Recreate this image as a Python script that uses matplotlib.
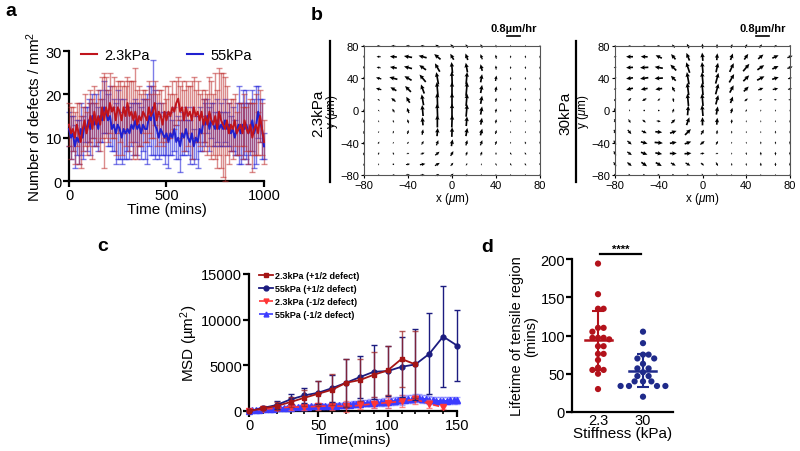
import numpy as np
import matplotlib
matplotlib.use('Agg')
import matplotlib.pyplot as plt
from matplotlib.lines import Line2D

plt.rcParams['font.family'] = ['Liberation Sans', 'DejaVu Sans']
plt.rcParams['mathtext.fontset'] = 'custom'
plt.rcParams['mathtext.rm'] = 'Liberation Sans'
plt.rcParams['mathtext.it'] = 'Liberation Sans:italic'
plt.rcParams['mathtext.bf'] = 'Liberation Sans:bold'

# ---------------- data: panel a ----------------
time_a = list(range(0, 1001, 10))
red_mean = [13, 11, 12, 10, 13, 11, 9, 12, 14, 11,
            13, 15, 12, 16, 13, 15, 13, 17, 14, 17,
            15, 18, 16, 17, 14, 17, 16, 14, 17, 15,
            18, 15, 16, 14, 16, 13, 15, 14, 16, 15,
            14, 17, 15, 16, 18, 14, 16, 15, 13, 16,
            14, 16, 15, 17, 16, 18, 19, 16, 17, 14,
            17, 15, 16, 14, 17, 15, 16, 14, 16, 13,
            15, 13, 16, 14, 13, 15, 12, 16, 14, 13,
            12, 14, 11, 13, 12, 14, 11, 12, 13, 11,
            14, 12, 11, 13, 10, 12, 13, 11, 15, 12,
            9]
red_sd = [5, 6, 5, 6, 5, 7, 6, 5, 6, 5,
          5, 6, 7, 6, 5, 6, 6, 7, 11, 7,
          6, 7, 6, 7, 8, 6, 7, 8, 6, 7,
          6, 8, 7, 9, 10, 8, 7, 6, 5, 6,
          5, 6, 5, 6, 5, 6, 5, 6, 5, 6,
          5, 6, 5, 6, 4, 5, 5, 6, 6, 7,
          6, 7, 6, 9, 7, 6, 7, 6, 5, 6,
          6, 7, 8, 9, 7, 10, 9, 10, 11, 12,
          12, 8, 7, 6, 7, 6, 5, 6, 5, 6,
          6, 5, 7, 6, 8, 6, 7, 5, 6, 6,
          5]
blue_mean = [12, 10, 11, 8, 10, 9, 12, 10, 13, 12,
             14, 12, 15, 13, 14, 12, 15, 14, 17, 16,
             14, 15, 12, 13, 11, 13, 12, 10, 12, 11,
             12, 11, 13, 12, 14, 12, 13, 11, 13, 12,
             12, 15, 14, 17, 13, 12, 10, 12, 11, 10,
             11, 9, 11, 10, 12, 9, 10, 8, 11, 10,
             12, 10, 9, 11, 8, 10, 9, 12, 11, 14,
             13, 15, 12, 14, 13, 12, 14, 12, 13, 12,
             14, 12, 13, 11, 12, 10, 12, 13, 11, 13,
             12, 13, 11, 12, 14, 11, 13, 16, 14, 12,
             8]
blue_sd = [4, 5, 4, 5, 4, 5, 6, 5, 4, 5,
           5, 6, 5, 5, 6, 5, 6, 5, 6, 5,
           6, 7, 5, 6, 7, 8, 7, 6, 7, 6,
           5, 6, 5, 6, 5, 6, 5, 6, 6, 7,
           8, 7, 8, 11, 8, 6, 5, 6, 5, 6,
           5, 6, 5, 4, 5, 4, 5, 6, 5, 4,
           5, 4, 5, 6, 4, 5, 6, 5, 4, 5,
           5, 4, 5, 4, 5, 4, 5, 4, 5, 4,
           5, 4, 5, 4, 5, 4, 6, 9, 7, 8,
           6, 8, 7, 6, 7, 8, 9, 6, 5, 7,
           3]
legend_a = ['2.3kPa', '55kPa']

# ---------------- data: panel b (velocity fields) ----------------
grid_b = [-80, -66.7, -53.3, -40, -26.7, -13.3, 0, 13.3, 26.7, 40, 53.3, 66.7, 80]
# rows from y=80 (top) to y=-80 (bottom); angle in degrees, speed relative to speed_max
ang_soft = [
    [100, 170, 175, 175, 170, 150, 130, 120, 115, 100, 90, 90, 90],
    [100, 180, 175, 170, 165, 140, 120, 110, 110, 100, 90, 90, 90],
    [100, 170, 170, 165, 145, 120, 95, 100, 105, 95, 90, 90, 90],
    [100, 165, 165, 150, 130, 100, 92, 85, 80, 80, 90, 90, 90],
    [95, 165, 150, 135, 110, 95, 90, 85, 80, 80, 90, 90, 90],
    [95, 150, 140, 120, 100, 92, 90, 85, 80, 80, 90, 90, 90],
    [90, 130, 120, 110, 95, 92, 90, 85, 80, 80, 100, 90, 90],
    [90, 110, 110, 105, 95, 90, 88, 85, 80, 80, 90, 90, 90],
    [80, 60, 70, 75, 80, 85, 88, 80, 75, 75, 90, 90, 90],
    [75, 60, 60, 50, 60, 70, 80, 75, 70, 70, 90, 110, 100],
    [75, 70, 110, 20, 20, 40, 60, 70, 70, 90, 120, 120, 110],
    [75, 70, 90, 10, 10, 30, 50, 60, 90, 110, 120, 120, 110],
    [70, 60, 30, 0, 0, 20, 45, 60, 90, 100, 110, 110, 100]]
mag_soft = [
    [0.2, 0.25, 0.3, 0.3, 0.3, 0.35, 0.35, 0.3, 0.3, 0.2, 0.15, 0.15, 0.15],
    [0.2, 0.3, 0.5, 0.6, 0.6, 0.6, 0.5, 0.5, 0.4, 0.3, 0.2, 0.2, 0.2],
    [0.25, 0.3, 0.5, 0.6, 0.6, 0.7, 0.8, 0.7, 0.5, 0.3, 0.2, 0.2, 0.2],
    [0.25, 0.4, 0.6, 0.6, 0.7, 0.9, 1.0, 0.9, 0.6, 0.4, 0.2, 0.2, 0.2],
    [0.25, 0.4, 0.5, 0.6, 0.7, 1.0, 1.0, 1.0, 0.6, 0.4, 0.2, 0.2, 0.2],
    [0.25, 0.2, 0.4, 0.5, 0.8, 1.0, 1.0, 0.9, 0.6, 0.3, 0.2, 0.2, 0.2],
    [0.25, 0.15, 0.3, 0.4, 0.8, 1.0, 1.0, 0.9, 0.6, 0.3, 0.2, 0.15, 0.2],
    [0.25, 0.15, 0.2, 0.3, 0.6, 0.9, 0.9, 0.7, 0.5, 0.3, 0.15, 0.15, 0.2],
    [0.25, 0.15, 0.2, 0.3, 0.4, 0.6, 0.7, 0.6, 0.5, 0.3, 0.15, 0.15, 0.2],
    [0.25, 0.2, 0.15, 0.2, 0.3, 0.4, 0.5, 0.4, 0.4, 0.3, 0.15, 0.2, 0.2],
    [0.25, 0.2, 0.2, 0.2, 0.3, 0.4, 0.4, 0.3, 0.3, 0.2, 0.2, 0.2, 0.2],
    [0.2, 0.15, 0.1, 0.3, 0.4, 0.4, 0.3, 0.2, 0.15, 0.2, 0.2, 0.2, 0.2],
    [0.15, 0.15, 0.2, 0.3, 0.3, 0.3, 0.3, 0.2, 0.15, 0.15, 0.15, 0.15, 0.15]]
ang_stiff = [
    [200, 180, 180, 160, 130, 115, 95, 90, 75, 65, 55, 40, 30],
    [200, 180, 178, 155, 130, 112, 95, 85, 70, 55, 40, 25, 20],
    [200, 183, 183, 170, 135, 108, 95, 78, 65, 50, 35, 25, 20],
    [200, 188, 188, 183, 135, 100, 95, 75, 60, 45, 28, 18, 15],
    [210, 193, 190, 188, 120, 97, 95, 75, 62, 45, 22, 12, 10],
    [240, 225, 210, 220, 100, 95, 95, 75, 70, 40, 20, 0, 0],
    [-70, 260, 240, 270, 70, 85, 95, 80, 75, 70, 80, 90, 90],
    [-70, -60, -40, -10, 45, 70, 90, 85, 85, 90, 90, 90, 90],
    [-65, -50, -25, -5, 20, 45, 60, 85, 90, 90, 90, 90, 95],
    [-60, -40, -15, -5, 10, 20, 40, 60, 90, 90, 90, 90, 95],
    [-60, -35, -20, -10, 0, 5, 10, 20, 90, 95, 95, 95, 95],
    [-55, -40, -35, -30, -30, -30, -40, -60, 95, 95, 95, 95, 95],
    [-50, -45, -40, -40, -40, -45, -60, -70, 90, 90, 90, 90, 90]]
mag_stiff = [
    [0.15, 0.2, 0.2, 0.25, 0.3, 0.35, 0.35, 0.3, 0.3, 0.3, 0.3, 0.25, 0.2],
    [0.2, 0.5, 0.5, 0.5, 0.5, 0.6, 0.6, 0.5, 0.5, 0.5, 0.5, 0.5, 0.4],
    [0.2, 0.5, 0.6, 0.6, 0.6, 0.8, 0.8, 0.7, 0.7, 0.7, 0.6, 0.5, 0.4],
    [0.2, 0.5, 0.6, 0.6, 0.5, 0.9, 0.9, 0.8, 0.7, 0.6, 0.6, 0.5, 0.3],
    [0.2, 0.5, 0.5, 0.5, 0.4, 0.9, 0.9, 0.8, 0.6, 0.5, 0.4, 0.4, 0.3],
    [0.25, 0.3, 0.35, 0.25, 0.3, 0.9, 0.9, 0.7, 0.5, 0.3, 0.2, 0.2, 0.2],
    [0.3, 0.15, 0.1, 0.1, 0.3, 0.7, 0.8, 0.6, 0.4, 0.2, 0.15, 0.15, 0.15],
    [0.3, 0.3, 0.3, 0.3, 0.4, 0.6, 0.6, 0.5, 0.3, 0.15, 0.15, 0.15, 0.2],
    [0.35, 0.4, 0.4, 0.5, 0.5, 0.6, 0.4, 0.3, 0.2, 0.15, 0.15, 0.2, 0.2],
    [0.35, 0.4, 0.5, 0.6, 0.5, 0.5, 0.4, 0.3, 0.15, 0.15, 0.2, 0.2, 0.25],
    [0.35, 0.4, 0.5, 0.5, 0.5, 0.5, 0.3, 0.2, 0.15, 0.2, 0.25, 0.25, 0.25],
    [0.35, 0.4, 0.5, 0.5, 0.4, 0.4, 0.3, 0.3, 0.2, 0.2, 0.25, 0.25, 0.25],
    [0.2, 0.2, 0.2, 0.2, 0.2, 0.2, 0.2, 0.2, 0.15, 0.15, 0.15, 0.15, 0.15]]
speed_max = 0.85    # um/hr for relative speed 1
scale_ref = 0.8     # um/hr
panel_b_labels = ['2.3kPa', '30kPa']

# ---------------- data: panel c ----------------
t_plus = [0, 10, 20, 30, 40, 50, 60, 70, 80, 90, 100, 110, 120]
msd_soft_plus = [0, 290, 550, 980, 1450, 1890, 2330, 3090, 3390, 3970, 4440, 5700, 5100]
err_soft_plus = [0, 150, 400, 500, 900, 1350, 1700, 2600, 2300, 2450, 2650, 3050, 3650]
t_plus55 = [0, 10, 20, 30, 40, 50, 60, 70, 80, 90, 100, 110, 120, 130, 140, 150]
msd_stiff_plus = [0, 330, 660, 1270, 1710, 2000, 2510, 3090, 3710, 4300, 4370, 4840, 5100, 6260, 8150, 7170]
err_stiff_plus = [0, 150, 400, 550, 830, 1270, 1480, 2600, 2300, 2950, 2700, 3300, 3900, 4440, 5500, 3850]
t_minus23 = [0, 10, 20, 30, 40, 50, 60, 70, 80, 90, 100, 110, 120, 130, 140]
msd_soft_minus = [0, 200, 300, 440, 440, 510, 550, 510, 620, 800, 910, 1060, 1270, 800, 400]
err_soft_minus = [0, 100, 200, 300, 350, 350, 400, 600, 450, 500, 600, 650, 450, 450, 150]
t_minus55 = [0, 2.5, 5, 7.5, 10, 12.5, 15, 17.5, 20, 22.5, 25, 27.5, 30, 32.5, 35, 37.5, 40,
             42.5, 45, 47.5, 50, 52.5, 55, 57.5, 60, 62.5, 65, 67.5, 70, 72.5, 75, 77.5, 80,
             82.5, 85, 87.5, 90, 92.5, 95, 97.5, 100, 102.5, 105, 107.5, 110, 112.5, 115,
             117.5, 120, 122.5, 125, 127.5, 130, 132.5, 135, 137.5, 140, 142.5, 145, 147.5, 150]
msd_stiff_minus = [50, 80, 110, 140, 170, 200, 230, 260, 290, 320, 340, 360, 380, 400, 420, 440, 460,
                   480, 500, 510, 520, 540, 560, 570, 580, 600, 620, 640, 660, 700, 740, 780, 820,
                   850, 880, 900, 920, 940, 960, 980, 1000, 1050, 1100, 1150, 1200, 1250, 1300,
                   1350, 1400, 1380, 1350, 1300, 1200, 1150, 1100, 1100, 1100, 1100, 1150, 1150, 1150]
err_stiff_minus = [20, 30, 40, 50, 60, 70, 80, 90, 100, 110, 120, 130, 140, 150, 160, 170, 180,
                   190, 200, 210, 220, 230, 240, 250, 260, 270, 280, 290, 300, 310, 320, 330, 340,
                   350, 360, 370, 600, 380, 390, 400, 700, 400, 410, 420, 500, 420, 430,
                   440, 450, 440, 430, 420, 410, 400, 390, 380, 380, 380, 380, 380, 400]
legend_c = ['2.3kPa (+1/2 defect)', '55kPa (+1/2 defect)', '2.3kPa (-1/2 defect)', '55kPa (-1/2 defect)']

# ---------------- data: panel d ----------------
groups_d = ['2.3', '30']
life_soft = [194, 154, 135, 135, 110, 110, 105, 97, 97, 97, 95, 86, 86, 76, 76, 68, 58, 55, 55, 50, 30]
life_stiff = [105, 90, 75, 75, 70, 70, 63, 57, 57, 52, 47, 47, 40, 40, 40, 34, 34, 34, 34, 20]
sig_label = '****'

# ---------------- colours ----------------
RED_A = '#c0141c'
BLUE_A = '#2020d0'
DRED = '#a51515'
NAVY = '#1c1c80'
LRED = '#ff3535'
LBLUE = '#3c3cff'
RED_D = '#b3121b'
NAVY_D = '#1f2a8a'

W, H = 800, 452
fig = plt.figure(figsize=(8, 4.52), dpi=100)


def box(x0, y0, x1, y1):
    return [x0 / W, 1 - y1 / H, (x1 - x0) / W, (y1 - y0) / H]


def prism_style(ax, lw=1.6):
    for s in ['top', 'right']:
        ax.spines[s].set_visible(False)
    for s in ['left', 'bottom']:
        ax.spines[s].set_linewidth(lw)
    ax.tick_params(direction='out', length=4, width=lw, color='black')


# ================= panel a =================
axA = fig.add_axes(box(69, 52, 264, 182))
prism_style(axA)
axA.errorbar(time_a, blue_mean, yerr=blue_sd, fmt='none', ecolor=(0.15, 0.15, 0.85, 0.6),
             elinewidth=1.0, capsize=2, capthick=1.0, clip_on=False, zorder=2)
axA.errorbar(time_a, red_mean, yerr=red_sd, fmt='none', ecolor=(0.75, 0.18, 0.18, 0.55),
             elinewidth=1.0, capsize=2, capthick=1.0, clip_on=False, zorder=3)
axA.plot(time_a, blue_mean, color=BLUE_A, lw=1.4, zorder=4, clip_on=False)
axA.plot(time_a, red_mean, color=RED_A, lw=1.4, zorder=5, clip_on=False)
axA.set_xlim(0, 1000)
axA.set_ylim(0, 30)
axA.set_xticks([0, 500, 1000])
axA.set_yticks([0, 10, 20, 30])
axA.tick_params(labelsize=10.5, pad=1)
axA.set_xlabel('Time (mins)', fontsize=11, labelpad=0)
axA.set_ylabel('Number of defects / mm$^2$', fontsize=11, labelpad=2)
axA.legend([Line2D([], [], color=RED_A, lw=1.5), Line2D([], [], color=BLUE_A, lw=1.5)], legend_a,
           loc='upper left', bbox_to_anchor=(0.03, 1.07), ncol=2, frameon=False, fontsize=10.5,
           handlelength=1.1, handletextpad=0.5, columnspacing=2.6, borderaxespad=0)

# ================= panel b =================
qscale = scale_ref / 0.13   # um/hr per inch -> 0.8 um/hr = 13 px
XX, YY = np.meshgrid(grid_b, grid_b[::-1])
for pos, ang, mag, lab, linex, labx, sbx in [
        (box(364, 47, 540, 176), ang_soft, mag_soft, panel_b_labels[0], 330, 318, 514),
        (box(615, 47, 790, 176), ang_stiff, mag_stiff, panel_b_labels[1], 576, 565, 763)]:
    ax = fig.add_axes(pos)
    a = np.deg2rad(np.array(ang, dtype=float))
    sp = np.array(mag, dtype=float) * speed_max
    U = sp * np.cos(a)
    V = sp * np.sin(a)
    ax.quiver(XX, YY, U, V, angles='uv', scale_units='inches', scale=qscale, pivot='middle',
              units='dots', width=1.7, headwidth=2.6, headlength=2.8, headaxislength=2.5,
              minshaft=1.5, color='black', clip_on=False)
    ax.set_xlim(-80, 80)
    ax.set_ylim(-80, 80)
    ax.set_xticks([-80, -40, 0, 40, 80])
    ax.set_yticks([-80, -40, 0, 40, 80])
    for s in ax.spines.values():
        s.set_linewidth(0.8)
        s.set_color('#555555')
    ax.tick_params(direction='out', length=2.5, width=0.8, labelsize=8, pad=1)
    ax.set_xlabel(r'x ($\mu$m)', fontsize=8.5, labelpad=0)
    ax.set_ylabel(r'y ($\mu$m)', fontsize=8.5, labelpad=0)
    fig.add_artist(Line2D([linex / W, linex / W], [1 - 42 / H, 1 - 183 / H], color='black', lw=1.6))
    fig.text(labx / W, 1 - 113 / H, lab, rotation=90, ha='center', va='center', fontsize=11)
    fig.text(sbx / W, 1 - 29 / H, '0.8µm/hr', ha='center', va='center', fontsize=8, fontweight='bold')
    Lfig = scale_ref / qscale * 100 / W
    fig.add_artist(Line2D([(sbx - 7) / W, (sbx - 7) / W + Lfig], [1 - 37 / H, 1 - 37 / H],
                          color='black', lw=1.2))

# ================= panel c =================
axC = fig.add_axes(box(249, 275, 457, 412))
prism_style(axC)
axC.errorbar(t_minus55, msd_stiff_minus, yerr=err_stiff_minus, color=LBLUE, ls='--', lw=1.4,
             marker='^', ms=4.5, ecolor=(0.45, 0.45, 1.0, 0.6), elinewidth=0.9, capsize=2,
             clip_on=False, zorder=3)
axC.errorbar(t_minus23, msd_soft_minus, yerr=err_soft_minus, color=LRED, ls='--', lw=1.2,
             marker='v', ms=4, ecolor=(1.0, 0.35, 0.35, 0.7), elinewidth=0.9, capsize=2,
             clip_on=False, zorder=4)
axC.errorbar(t_plus55, msd_stiff_plus, yerr=err_stiff_plus, color=NAVY, ls='-', lw=1.3,
             marker='o', ms=3.5, ecolor=NAVY, elinewidth=1.0, capsize=2.5,
             clip_on=False, zorder=5)
axC.errorbar(t_plus, msd_soft_plus, yerr=err_soft_plus, color=DRED, ls='-', lw=1.3,
             marker='s', ms=3.5, ecolor=(0.62, 0.15, 0.15, 0.75), elinewidth=1.0, capsize=2.5,
             clip_on=False, zorder=6)
axC.set_xlim(0, 150)
axC.set_ylim(0, 15000)
axC.set_xticks([0, 50, 100, 150])
axC.set_xticks(range(0, 151, 10), minor=True)
axC.set_yticks([0, 5000, 10000, 15000])
axC.tick_params(which='minor', direction='out', length=2.5, width=1.2)
axC.tick_params(labelsize=10.5, pad=1)
axC.set_xlabel('Time(mins)', fontsize=11, labelpad=0)
axC.set_ylabel('MSD (µm$^2$)', fontsize=11, labelpad=1)
hc = [Line2D([], [], color=DRED, ls='-', marker='s', ms=3.5, lw=1.3),
      Line2D([], [], color=NAVY, ls='-', marker='o', ms=3.5, lw=1.3),
      Line2D([], [], color=LRED, ls='--', marker='v', ms=3.5, lw=1.2),
      Line2D([], [], color=LBLUE, ls='--', marker='^', ms=3.5, lw=1.2)]
axC.legend(hc, legend_c, loc='upper left', bbox_to_anchor=(0.03, 1.05), frameon=False,
           prop={'size': 6.5, 'weight': 'bold'}, handlelength=1.6, handletextpad=0.2,
           labelspacing=0.45, borderaxespad=0)

# ================= panel d =================
axD = fig.add_axes(box(572, 260, 673, 413))
prism_style(axD)
axD.set_xlim(-0.578, 1.667)
axD.set_ylim(0, 200)
px_x = 45.0          # px per category unit
px_y = 153.0 / 200   # px per minute


def swarm_offsets(vals, step_px=2.8, min_d=5.6):
    vals = np.asarray(vals, dtype=float)
    order = np.argsort(-vals)
    placed = []
    offs = np.zeros(len(vals))
    for i in order:
        yv = vals[i] * px_y
        for k in range(0, 40):
            cands = [0.0] if k == 0 else [k * step_px, -k * step_px]
            ok = None
            for c in cands:
                if all((c - px) ** 2 + (yv - py) ** 2 >= min_d ** 2 for px, py in placed):
                    ok = c
                    break
            if ok is not None:
                offs[i] = ok
                placed.append((ok, yv))
                break
    return offs / px_x


for gi, (vals, col) in enumerate([(life_soft, RED_D), (life_stiff, NAVY_D)]):
    offs = swarm_offsets(vals)
    axD.scatter(gi + offs, vals, s=20, color=col, edgecolors='none', zorder=3, clip_on=False)
    m = np.mean(vals)
    sd = np.std(vals, ddof=1)
    axD.plot([gi - 0.3, gi + 0.3], [m, m], color=col, lw=1.8, zorder=4)
    axD.errorbar([gi], [m], yerr=[sd], fmt='none', ecolor=col, elinewidth=1.5, capsize=4,
                 capthick=1.5, zorder=4)
axD.set_xticks([0, 1])
axD.set_xticklabels(groups_d)
axD.set_yticks([0, 50, 100, 150, 200])
axD.tick_params(labelsize=10.5, pad=1)
axD.tick_params(axis='x', length=0)
axD.set_xlabel('Stiffness (kPa)', fontsize=11, labelpad=-1)
axD.set_ylabel('Lifetime of tensile region\n(mins)', fontsize=10.5, labelpad=2, linespacing=1.0)
axD.plot([0.05, 0.95], [206, 206], color='black', lw=1.6, clip_on=False)
axD.text(0.5, 207, sig_label, ha='center', va='bottom', fontsize=8, fontweight='bold')

# ================= panel labels =================
for txt, x, y in [('a', 5, 12), ('b', 311, 15), ('c', 97, 247), ('d', 481, 248)]:
    fig.text(x / W, 1 - y / H, txt, fontsize=14, fontweight='bold', ha='left', va='center')

fig.savefig('out.png', dpi=100)
